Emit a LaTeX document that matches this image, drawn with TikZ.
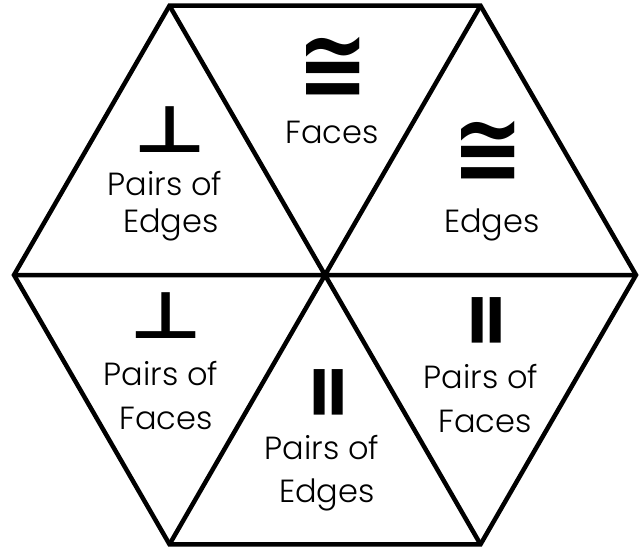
\documentclass[tikz,border=0pt]{standalone}
\usepackage{fontspec}
\setmainfont{Poppins Light}
\newfontfamily\symfont{DejaVu Sans Bold}
\usetikzlibrary{calc}
\newcommand\congsym{\scalebox{1.7}[1.95]{≅}}
\newcommand\perpsym{\scalebox{1.6}[1.3]{⊥}}
\newcommand\parsym{\scalebox{1.9}[0.93]{∥}}
\begin{document}
\begin{tikzpicture}[x=1pt,y=-1pt,
  word/.style={anchor=base,inner sep=0pt,font=\fontsize{32}{38}\selectfont},
  sym/.style={inner sep=0pt,font=\symfont\fontsize{50}{50}\selectfont}]
\useasboundingbox (0,0) rectangle (644,552);
% Hexagon with its three long diagonals
\coordinate (c) at (325,275);
\foreach \a/\n in {0/r,60/br,120/bl,180/l,240/tl,300/tr}
  \coordinate (\n) at ($(c)+(\a:311)$);
\draw[line width=4.5pt] (l) -- (tl) -- (tr) -- (r) -- (br) -- (bl) -- cycle;
\draw[line width=4.5pt] (l) -- (r) (tl) -- (br) (tr) -- (bl);
% Top: congruent faces
\node[sym] (topsym) at (333,68) {\congsym};
\node[word] (topa) at (332,143) {Faces};
% Upper left: perpendicular edges
\node[sym] (ulsym) at (170,130) {\perpsym};
\node[word] (ula) at (165,195) {Pairs of};
\node[word] (ulb) at (171,232) {Edges};
% Upper right: congruent edges
\node[sym] (ursym) at (488,152) {\congsym};
\node[word] (ura) at (492,232) {Edges};
% Lower left: perpendicular faces
\node[sym] (llsym) at (166,316) {\perpsym};
\node[word] (lla) at (161,385) {Pairs of};
\node[word] (llb) at (166,429) {Faces};
% Bottom: parallel edges
\node[sym] (botsym) at (327,392) {\parsym};
\node[word] (bota) at (322,459) {Pairs of};
\node[word] (botb) at (327,502) {Edges};
% Lower right: parallel faces
\node[sym] (lrsym) at (485,320) {\parsym};
\node[word] (lra) at (481,388) {Pairs of};
\node[word] (lrb) at (485,432) {Faces};
\end{tikzpicture}
\end{document}
